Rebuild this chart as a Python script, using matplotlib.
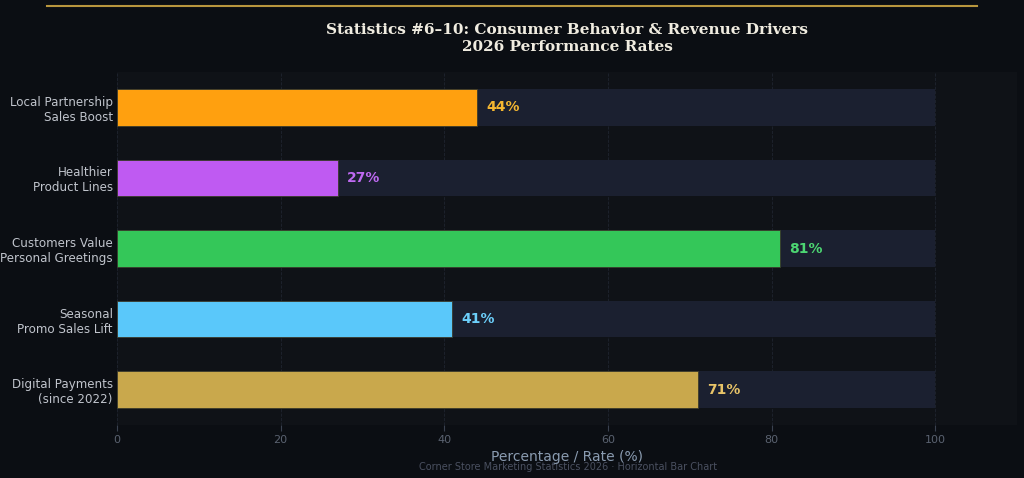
import matplotlib.pyplot as plt
from matplotlib.lines import Line2D

# Data
labels = ["Local Partnership\nSales Boost", "Healthier\nProduct Lines",
          "Customers Value\nPersonal Greetings", "Seasonal\nPromo Sales Lift",
          "Digital Payments\n(since 2022)"]
values = [44, 27, 81, 41, 71]
bar_colors = ["#ffa00f", "#bf5af2", "#34c759", "#5ac8fa", "#c9a84c"]
text_colors = ["#f5b731", "#bf6af2", "#4cd672", "#6ccffa", "#e8c468"]

fig = plt.figure(figsize=(10.24, 4.78), dpi=100, facecolor="#0b0e13")
ax = fig.add_axes([117 / 1024, 1 - 425 / 478, 900 / 1024, 353 / 478])
ax.set_facecolor("#0f1217")

y = list(range(len(labels)))
ax.barh(y, [100] * len(values), height=0.52, color="#1b2030", zorder=1)
ax.barh(y, values, height=0.52, color=bar_colors, edgecolor="#3a3a2a",
        linewidth=0.6, zorder=2)

for yi, v, c in zip(y, values, text_colors):
    ax.text(v + 1.1, yi, f"{v}%", va="center", ha="left", color=c,
            fontsize=10, fontweight="bold", zorder=3)

ax.set_xlim(0, 110)
ax.set_ylim(len(labels) - 0.5, -0.5)
ax.set_yticks(y)
ax.set_yticklabels(labels, color="#c0c4cc", fontsize=8.6)
ax.set_xticks([0, 20, 40, 60, 80, 100])
ax.tick_params(axis="x", colors="#3a4250", labelcolor="#5a6270", labelsize=8, length=4)
ax.tick_params(axis="y", length=0, pad=3)
ax.grid(axis="x", color="#2a3040", linestyle="--", linewidth=0.6, alpha=0.6, zorder=0)
ax.set_axisbelow(True)
for s in ax.spines.values():
    s.set_visible(False)

ax.set_xlabel("Percentage / Rate (%)", color="#8a9bb0", fontsize=10, labelpad=3)

fig.text(0.554, 0.919, "Statistics #6\u201310: Consumer Behavior & Revenue Drivers\n2026 Performance Rates",
         ha="center", va="center", color="#f0ece0", fontsize=11, fontweight="bold",
         family="DejaVu Serif", linespacing=1.3)
fig.text(0.555, 0.024, "Corner Store Marketing Statistics 2026 \u00b7 Horizontal Bar Chart",
         ha="center", va="center", color="#4a5060", fontsize=7)

fig.add_artist(Line2D([47 / 1024, 977 / 1024], [1 - 6 / 478, 1 - 6 / 478],
                      color="#b8963e", linewidth=1.5, transform=fig.transFigure))

fig.savefig("out.png", dpi=100, facecolor=fig.get_facecolor())
